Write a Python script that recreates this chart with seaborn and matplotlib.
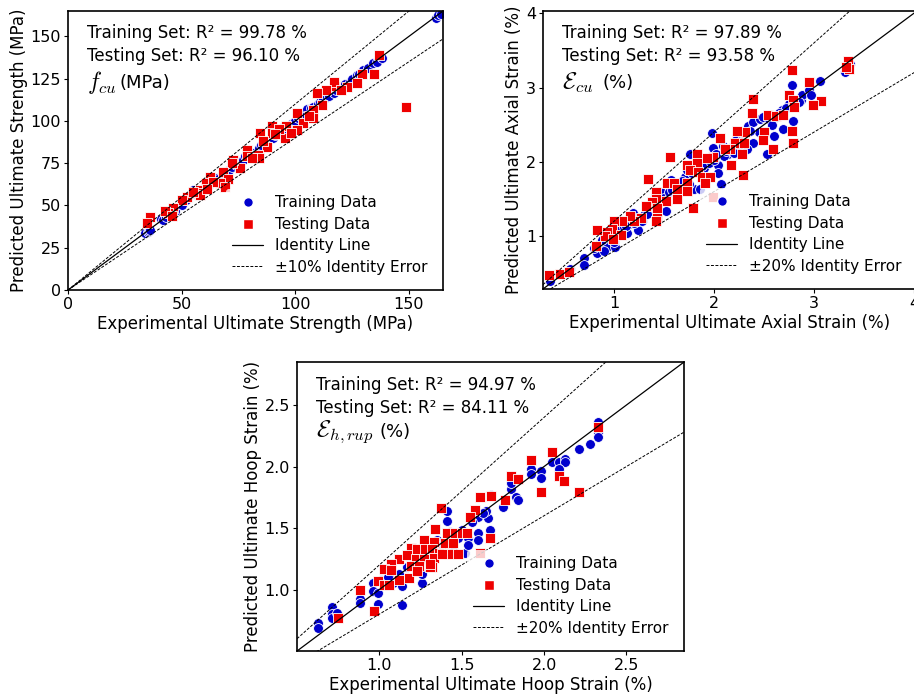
import numpy as np
import pandas as pd
import matplotlib
matplotlib.use("Agg")
import matplotlib.pyplot as plt
from matplotlib.lines import Line2D
import seaborn as sns

sns.set_style("ticks")
plt.rcParams['font.family'] = ['DejaVu Sans']
plt.rcParams['mathtext.fontset'] = 'cm'
for k in ['text.color', 'axes.labelcolor', 'xtick.color', 'ytick.color', 'axes.edgecolor']:
    plt.rcParams[k] = 'black'

# ---------------- data: f_cu (MPa) ----------------
fcu_train_x = [34, 35, 35.5, 36, 41, 42, 43, 45, 47, 50, 52, 53, 55, 56, 57, 58, 60, 61, 62, 63,
               65, 66, 68, 70, 71, 72, 74, 75, 77, 78, 80, 82, 84, 85, 87, 88, 90, 91, 92, 94,
               95, 97, 98, 100, 101, 102, 104, 105, 107, 108, 110, 111, 112, 114, 115, 117, 118, 120, 122, 124,
               125, 127, 128, 130, 132, 134, 136, 138, 162, 163, 164]
fcu_train_y = [34, 34.5, 35, 35.5, 42, 41.5, 43, 45.5, 47, 50, 53, 55, 59, 57, 57, 58.5, 60, 61.5, 62, 63,
               66, 65.5, 68, 70.5, 71, 73, 74, 74.5, 77, 79, 80.5, 81, 84, 85.5, 86.5, 88, 90, 91.5, 93, 94,
               97, 96.5, 98, 100, 101.5, 103, 104, 107, 107.5, 108, 110, 111, 113, 114, 115, 116.5, 118, 120, 122, 123,
               125, 127, 128, 130, 131.5, 134, 135, 137, 161, 162.5, 163]
fcu_test_x = [137, 148.5, 134.5, 129.4, 127, 122.8, 117.6, 117, 113.5, 109.6, 111.8, 108, 108, 100.7, 103.4,
              100.7, 95.6, 96, 89.7, 89.7, 84.6, 87.5, 86, 83.8, 78.7, 78.7, 84, 75.7, 72.8, 72,
              68.4, 70.5, 66.9, 69, 62.5, 60.5, 58, 56.6, 58, 52.2, 50, 46.3, 44, 42.7, 45.6,
              36, 34.6, 93, 91, 64, 55, 98, 106, 120, 81, 61]
fcu_test_y = [139, 108, 128, 128, 122.7, 120, 120.8, 123, 118, 116.8, 109.5, 106.6, 102, 104.6, 98.7,
              94.7, 89.8, 97, 97, 93, 92.8, 84.8, 88, 80, 82.9, 79, 78, 72, 77, 75,
              70, 65.6, 63.2, 61, 67, 63, 59, 57.3, 56, 55.2, 53.3, 48.4, 45.4, 46.8, 43.6,
              43.4, 39.5, 95, 92, 64, 58, 93, 103, 118, 78, 60]

# ---------------- data: axial strain (%) ----------------
ecu_train_x = [0.36, 0.56, 0.70, 0.70, 0.83, 0.85, 0.93, 1.01, 1.06, 1.13, 1.24, 1.19, 1.28, 1.38, 1.40,
               1.47, 1.52, 1.57, 1.60, 1.71, 1.73, 1.80, 1.86, 1.76, 1.83, 1.98, 1.99, 2.04, 2.04, 2.07,
               2.09, 2.14, 2.22, 2.29, 2.34, 2.39, 2.39, 2.33, 2.46, 2.49, 2.53, 2.60, 2.69, 2.68, 2.75,
               2.79, 2.78, 2.87, 2.88, 2.95, 2.97, 3.06, 3.31, 3.34, 3.36,
               0.88, 0.95, 1.05, 1.10, 1.15, 1.20, 1.30, 1.35, 1.45, 1.50, 1.55, 1.65, 1.70, 1.78, 1.90,
               1.95, 2.00, 2.10, 2.18, 2.25, 2.45, 2.55, 2.62, 2.72, 2.85, 0.90, 1.00, 1.62, 1.92, 2.20,
               0.80, 0.98, 1.12, 1.33, 1.42, 1.58, 1.68, 1.75, 1.88, 2.02, 2.12, 2.27, 2.36, 2.58, 2.65]
ecu_train_y = [0.40, 0.56, 0.71, 0.61, 0.77, 0.90, 0.86, 0.86, 1.09, 1.04, 1.09, 1.31, 1.21, 1.35, 1.50,
               1.59, 1.34, 1.76, 1.67, 1.80, 1.89, 1.63, 1.63, 2.11, 2.02, 2.39, 2.19, 1.96, 1.85, 1.70,
               2.21, 2.10, 2.30, 2.39, 2.48, 2.53, 2.26, 2.17, 2.57, 2.61, 2.11, 2.35, 2.44, 2.70, 2.78,
               2.55, 3.04, 2.83, 2.90, 2.97, 2.90, 3.09, 3.21, 3.30, 3.31,
               0.95, 0.98, 1.02, 1.12, 1.16, 1.18, 1.28, 1.32, 1.48, 1.52, 1.60, 1.70, 1.72, 1.85, 1.92,
               1.98, 2.02, 2.08, 2.20, 2.22, 2.40, 2.58, 2.60, 2.72, 2.80, 0.80, 0.92, 1.58, 1.80, 2.12,
               0.84, 1.05, 1.14, 1.30, 1.38, 1.62, 1.74, 1.70, 1.95, 2.10, 2.15, 2.28, 2.42, 2.50, 2.66]
ecu_test_x = [0.353, 0.46, 0.553, 3.34, 3.35, 3.32, 2.78, 2.95, 3.07, 2.99, 2.75, 2.79, 2.80, 2.78, 2.79,
              2.39, 2.38, 2.54, 2.62, 2.69, 2.50, 2.49, 2.59, 2.31, 2.23, 2.21, 2.30, 2.28, 2.29, 2.16,
              2.17, 2.06, 2.11, 1.99, 1.93, 1.83, 1.83, 1.73, 1.76, 1.84, 1.88, 1.96, 1.91, 1.73, 1.73,
              1.79, 1.56, 1.34, 1.53, 1.60, 1.63, 1.63, 1.52, 1.42, 1.42, 1.38, 1.43, 1.43, 1.42, 1.32,
              1.27, 1.20, 1.16, 1.08, 1.00, 0.98, 0.93, 0.91, 0.83, 0.82, 1.07, 0.99, 1.99]
ecu_test_y = [0.478, 0.487, 0.514, 3.35, 3.25, 3.27, 3.24, 3.07, 2.82, 2.77, 2.90, 2.83, 2.74, 2.41, 2.26,
              2.84, 2.66, 2.63, 2.62, 2.63, 2.40, 2.30, 2.17, 2.40, 2.41, 2.26, 2.26, 2.11, 1.82, 2.17,
              1.96, 2.32, 2.17, 2.07, 2.05, 2.11, 1.98, 1.96, 1.89, 1.87, 1.80, 1.80, 1.71, 1.71, 1.61,
              1.38, 2.07, 1.77, 1.72, 1.71, 1.63, 1.50, 1.47, 1.60, 1.50, 1.46, 1.38, 1.25, 1.21, 1.40,
              1.24, 1.20, 1.27, 1.21, 1.20, 1.10, 1.06, 1.00, 1.09, 0.87, 1.01, 0.96, 1.53]

# ---------------- data: hoop strain (%) ----------------
ehr_train_x = [0.63, 0.63, 0.71, 0.71, 0.71, 0.74, 0.88, 0.88, 0.96, 0.96, 0.99, 0.99, 1.01, 1.04, 1.08,
               1.10, 1.14, 1.14, 1.26, 1.26, 1.19, 1.17, 1.35, 1.41, 1.41, 1.43, 1.45, 1.52, 1.54, 1.54,
               1.60, 1.60, 1.60, 1.67, 1.66, 1.65, 1.68, 1.75, 1.80, 1.83, 1.84, 1.80, 1.92, 1.92, 1.98,
               1.98, 2.05, 2.09, 2.13, 2.13, 2.09, 2.21, 2.28, 2.33, 2.33, 2.33, 2.33,
               1.21, 1.25, 1.30, 1.38, 1.48, 1.50, 1.56, 1.63, 1.12, 1.05]
ehr_train_y = [0.73, 0.69, 0.86, 0.80, 0.77, 0.81, 0.92, 0.89, 1.05, 0.99, 0.97, 0.88, 1.08, 1.05, 1.05,
               1.11, 1.03, 0.87, 1.05, 1.13, 1.31, 1.18, 1.40, 1.56, 1.64, 1.47, 1.31, 1.30, 1.42, 1.36,
               1.46, 1.40, 1.59, 1.48, 1.58, 1.64, 1.77, 1.67, 1.82, 1.75, 1.73, 1.87, 1.98, 1.94, 1.96,
               1.91, 2.04, 2.04, 2.06, 2.04, 1.98, 2.14, 2.18, 2.36, 2.28, 2.24, 2.32,
               1.24, 1.28, 1.33, 1.36, 1.42, 1.48, 1.55, 1.62, 1.13, 1.10]
ehr_test_x = [2.33, 2.05, 1.92, 1.80, 1.84, 1.98, 2.09, 2.12, 2.21, 1.76, 1.68, 1.61, 1.58, 1.55, 1.67,
              1.61, 1.375, 1.34, 1.41, 1.46, 1.50, 1.53, 1.27, 1.33, 1.40, 1.45, 1.19, 1.23, 1.28, 1.32,
              1.36, 1.43, 1.48, 1.12, 1.17, 1.22, 1.27, 1.33, 1.19, 1.24, 1.32, 1.38, 1.07, 1.03, 1.07,
              0.99, 1.03, 1.06, 1.18, 1.12, 1.23, 0.88, 0.97, 0.75, 1.31, 1.31]
ehr_test_y = [2.325, 2.12, 2.05, 1.92, 1.90, 1.79, 1.92, 1.88, 1.79, 1.73, 1.76, 1.75, 1.65, 1.59, 1.42,
              1.30, 1.66, 1.49, 1.46, 1.46, 1.46, 1.46, 1.40, 1.39, 1.38, 1.38, 1.34, 1.33, 1.33, 1.33,
              1.30, 1.29, 1.29, 1.25, 1.28, 1.25, 1.25, 1.26, 1.19, 1.19, 1.18, 1.29, 1.21, 1.17, 1.16,
              1.07, 1.04, 1.04, 1.09, 1.08, 1.15, 1.00, 0.825, 0.77, 1.18, 1.21]

BLUE = "#0000cd"
RED = "#ee0000"

panels = [
    dict(tx=fcu_train_x, ty=fcu_train_y, sx=fcu_test_x, sy=fcu_test_y, lim=(0, 165), band=0.10,
         xt=[0, 50, 100, 150], yt=[0, 25, 50, 75, 100, 125, 150], fmt=None,
         r2=("99.78", "96.10"), sym=r"$f_{cu}$", unit="(MPa)", ux=0.137,
         xl="Experimental Ultimate Strength (MPa)", yl="Predicted Ultimate Strength (MPa)",
         pos=[0.0744, 0.5839, 0.4103, 0.4003], ty3=(0.921, 0.839, 0.742)),
    dict(tx=ecu_train_x, ty=ecu_train_y, sx=ecu_test_x, sy=ecu_test_y, lim=(0.29, 4.03), band=0.20,
         xt=[1, 2, 3, 4], yt=[1, 2, 3, 4], fmt=None,
         r2=("97.89", "93.58"), sym=r"$\mathcal{E}_{cu}$", unit="(%)", ux=0.158,
         xl="Experimental Ultimate Axial Strain (%)", yl="Predicted Ultimate Axial Strain (%)",
         pos=[0.5941, 0.5854, 0.4092, 0.3989], ty3=(0.921, 0.839, 0.742)),
    dict(tx=ehr_train_x, ty=ehr_train_y, sx=ehr_test_x, sy=ehr_test_y, lim=(0.5, 2.85), band=0.20,
         xt=[1.0, 1.5, 2.0, 2.5], yt=[1.0, 1.5, 2.0, 2.5], fmt="{:.1f}",
         r2=("94.97", "84.11"), sym=r"$\mathcal{E}_{h,rup}$", unit="(%)", ux=0.214,
         xl="Experimental Ultimate Hoop Strain (%)", yl="Predicted Ultimate Hoop Strain (%)",
         pos=[0.325, 0.066, 0.4234, 0.4146], ty3=(0.92, 0.842, 0.759)),
]

fig = plt.figure(figsize=(9.14, 6.97), dpi=100)

for p in panels:
    ax = fig.add_axes(p["pos"])
    dtr = pd.DataFrame({"x": p["tx"], "y": p["ty"]})
    dte = pd.DataFrame({"x": p["sx"], "y": p["sy"]})
    sns.scatterplot(data=dtr, x="x", y="y", ax=ax, color=BLUE, marker="o", s=50,
                    edgecolor="white", linewidth=0.6, zorder=2)
    sns.scatterplot(data=dte, x="x", y="y", ax=ax, color=RED, marker="s", s=50,
                    edgecolor="white", linewidth=0.6, zorder=2.5)
    lo, hi = p["lim"]
    line = np.array([lo, hi])
    ax.plot(line, line, color="black", lw=0.9, zorder=3)
    ax.plot(line, line * (1 + p["band"]), color="black", lw=0.7, ls=(0, (3, 1.6)), zorder=3)
    ax.plot(line, line * (1 - p["band"]), color="black", lw=0.7, ls=(0, (3, 1.6)), zorder=3)
    ax.set_xlim(lo, hi)
    ax.set_ylim(lo, hi)
    ax.set_xticks(p["xt"])
    ax.set_yticks(p["yt"])
    if p["fmt"]:
        ax.set_xticklabels([p["fmt"].format(v) for v in p["xt"]])
        ax.set_yticklabels([p["fmt"].format(v) for v in p["yt"]])
    ax.tick_params(labelsize=11.5, length=3, width=0.8, pad=2)
    ax.set_xlabel(p["xl"], fontsize=12, labelpad=2)
    ax.set_ylabel(p["yl"], fontsize=12, labelpad=2)
    for sp in ax.spines.values():
        sp.set_visible(True)
        sp.set_color("black")
        sp.set_linewidth(1.2)
    y1, y2, y3 = p["ty3"]
    ax.text(0.05, y1, f"Training Set: R² = {p['r2'][0]} %", transform=ax.transAxes,
            fontsize=12, va="center", ha="left")
    ax.text(0.05, y2, f"Testing Set: R² = {p['r2'][1]} %", transform=ax.transAxes,
            fontsize=12, va="center", ha="left")
    ax.text(0.05, y3, p["sym"], transform=ax.transAxes,
            fontsize=17, va="center", ha="left")
    ax.text(p["ux"], y3, p["unit"], transform=ax.transAxes,
            fontsize=13, va="center", ha="left")
    handles = [
        Line2D([], [], ls="none", marker="o", color=BLUE, markersize=7, markeredgecolor="white"),
        Line2D([], [], ls="none", marker="s", color=RED, markersize=7, markeredgecolor="white"),
        Line2D([], [], color="black", lw=0.9),
        Line2D([], [], color="black", lw=0.7, ls=(0, (3, 1.6))),
    ]
    labels = ["Training Data", "Testing Data", "Identity Line",
              f"±{int(round(p['band'] * 100))}% Identity Error"]
    ax.legend(handles, labels, loc="lower right", fontsize=11, frameon=True,
              framealpha=0.8, edgecolor="none", facecolor="white",
              labelspacing=0.42, handlelength=2.0, handletextpad=0.8, borderaxespad=0.6)

fig.savefig("out.png", dpi=100)
